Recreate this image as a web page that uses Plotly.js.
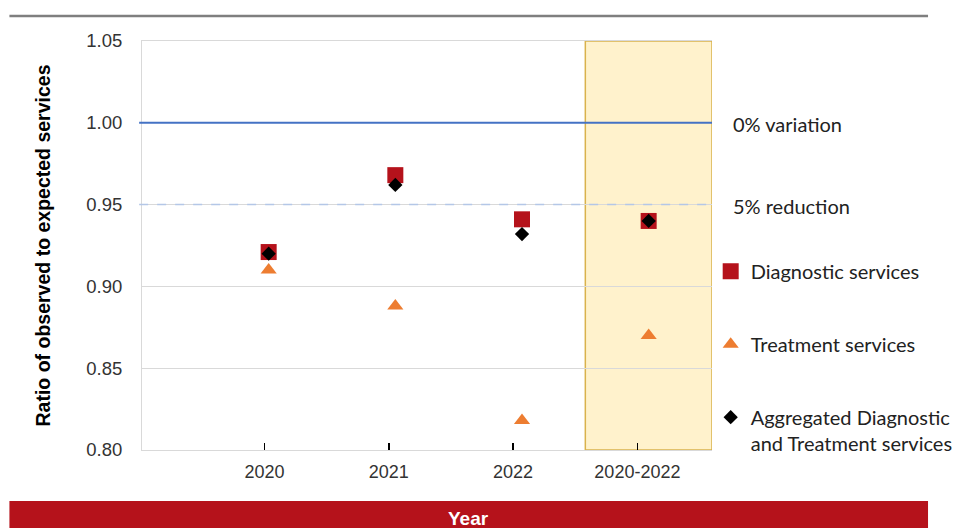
<!DOCTYPE html>
<html>
<head>
<meta charset="utf-8">
<script src="https://cdn.plot.ly/plotly-3.0.1.min.js"></script>
<style>
  html, body { margin: 0; padding: 0; background: #ffffff; }
  #chart { width: 960px; height: 528px; }
</style>
</head>
<body>
<div id="chart"></div>
<script>
// Periods shown along the x axis
const periods = ['2020', '2021', '2022', '2020-2022'];

// Ratio of observed to expected services, per period
const diagnostic = [0.921, 0.968, 0.941, 0.940];
const treatment = [0.910, 0.888, 0.818, 0.870];
const aggregated = [0.920, 0.962, 0.932, 0.940];

// Reference levels drawn across the plot
const refLabels = ['0% variation', '5% reduction'];
const refValues = [1.00, 0.95];

// Y axis ticks
const yTicks = [0.80, 0.85, 0.90, 0.95, 1.00, 1.05];

const labelFont = 'Lato, "Open Sans", sans-serif';
const axisFont = 'Arial, "Liberation Sans", sans-serif';

const traces = [
  {
    name: 'Diagnostic services', type: 'scatter', mode: 'markers',
    x: periods, y: diagnostic, xaxis: 'x', yaxis: 'y',
    marker: { symbol: 'square', size: 16, color: '#B5121B', line: { width: 0 } },
    legendgroup: 'd', hoverinfo: 'x+y'
  },
  {
    name: 'Treatment services', type: 'scatter', mode: 'markers',
    x: periods, y: treatment, xaxis: 'x', yaxis: 'y',
    marker: { symbol: 'triangle-up', size: 14, color: '#ED7D31', line: { width: 0 } },
    legendgroup: 't', hoverinfo: 'x+y'
  },
  {
    name: 'Aggregated Diagnostic<br>and Treatment services', type: 'scatter', mode: 'markers',
    x: periods, y: aggregated, xaxis: 'x', yaxis: 'y',
    marker: { symbol: 'diamond', size: 11, color: '#000000', line: { width: 0 } },
    legendgroup: 'a', hoverinfo: 'x+y'
  },
  // carries the period labels on the labelling axis
  {
    type: 'scatter', mode: 'markers', xaxis: 'x2', yaxis: 'y',
    x: periods.map((p, i) => i), y: periods.map(() => null),
    showlegend: false, hoverinfo: 'skip', marker: { opacity: 0 }
  }
];

const shapes = [
  // highlighted combined period
  {
    type: 'rect', layer: 'below', xref: 'x', yref: 'paper',
    x0: periods.length - 1.5, x1: periods.length - 0.5, y0: 0, y1: 1,
    fillcolor: '#FFF2CC', line: { color: '#D9B24C', width: 1.5 }
  },
  // top rule
  {
    type: 'line', xref: 'paper', yref: 'paper',
    x0: -0.2326, x1: 1.379, y0: 1.061, y1: 1.061,
    line: { color: '#7F7F7F', width: 2.5 }
  },
  // bottom banner
  {
    type: 'rect', xref: 'paper', yref: 'paper',
    x0: -0.2326, x1: 1.379, y0: -0.1247, y1: -0.2,
    fillcolor: '#B5121B', line: { width: 0 }
  }
];

// reference lines and their labels
const refStyles = [
  { color: '#4472C4', width: 2, dash: 'solid' },
  { color: '#B4C7E7', width: 1.5, dash: 'dash' }
];
const annotations = [];
refValues.forEach((v, i) => {
  shapes.push({
    type: 'line', layer: 'above', xref: 'paper', yref: 'y',
    x0: -0.005, x1: 1, y0: v, y1: v, line: refStyles[i]
  });
  annotations.push({
    text: refLabels[i], xref: 'paper', yref: 'y', x: 1.0325, y: v,
    xanchor: 'left', yanchor: 'middle', yshift: -1, showarrow: false,
    font: { family: labelFont, size: 20, color: '#222222' }
  });
});

annotations.push({
  text: '<b>Year</b>', xref: 'paper', yref: 'paper', x: 0.5727, y: -0.168,
  xanchor: 'center', yanchor: 'middle', showarrow: false,
  font: { family: axisFont, size: 19, color: '#FFFFFF' }
});

const layout = {
  width: 960, height: 528,
  margin: { l: 142, r: 248, t: 41, b: 78, pad: 0, autoexpand: false },
  paper_bgcolor: '#FFFFFF', plot_bgcolor: 'rgba(0,0,0,0)',
  showlegend: true,
  legend: {
    x: 0.9977, xanchor: 'left', y: 0.485, yanchor: 'top',
    traceorder: 'grouped', tracegroupgap: 44, valign: 'top',
    font: { family: labelFont, size: 20, color: '#222222' },
    bgcolor: 'rgba(0,0,0,0)', borderwidth: 0
  },
  xaxis: {
    type: 'category', range: [-1, periods.length - 0.5],
    showticklabels: false, ticks: '', showgrid: false, zeroline: false,
    showline: true, mirror: true, linecolor: '#D9D9D9', linewidth: 1,
    fixedrange: true
  },
  xaxis2: {
    type: 'linear', overlaying: 'x', anchor: 'y', side: 'bottom',
    range: [-0.985, 3.6],
    tickmode: 'array', tickvals: periods.map((p, i) => i), ticktext: periods,
    ticks: 'inside', ticklen: 7, tickwidth: 1.5, tickcolor: '#000000',
    showgrid: false, zeroline: false, showline: false,
    ticklabelstandoff: 9,
    tickfont: { family: axisFont, size: 18, color: '#333333' },
    fixedrange: true
  },
  yaxis: {
    range: [0.80, 1.05], tickmode: 'array', tickvals: yTicks,
    tickformat: '.2f', ticks: '', ticklabelstandoff: 15,
    showgrid: true, gridcolor: '#D9D9D9', gridwidth: 1,
    zeroline: false, showline: true, linecolor: '#D9D9D9', linewidth: 1,
    tickfont: { family: axisFont, size: 18.5, color: '#333333' },
    title: {
      text: '<b>Ratio of observed to expected services</b>', standoff: 30,
      font: { family: axisFont, size: 19.5, color: '#000000' }
    },
    fixedrange: true
  },
  shapes: shapes,
  annotations: annotations
};

Plotly.newPlot('chart', traces, layout, { displayModeBar: false, staticPlot: true });
</script>
</body>
</html>
